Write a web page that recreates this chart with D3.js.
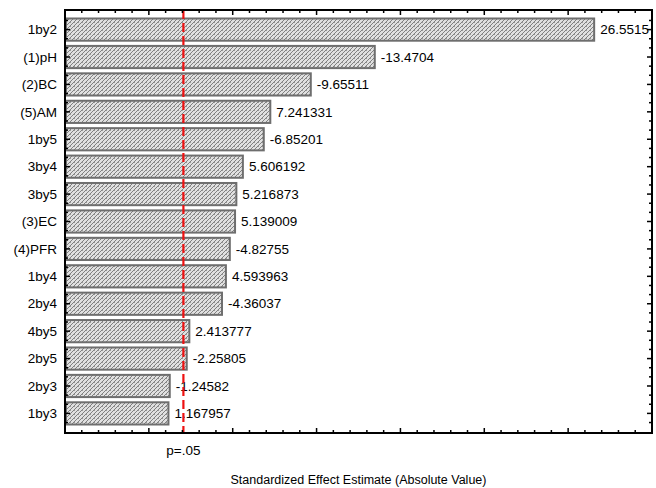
<!DOCTYPE html>
<html>
<head>
<meta charset="utf-8">
<script src="https://cdn.jsdelivr.net/npm/d3@7"></script>
<style>
  html, body { margin: 0; padding: 0; background: #fff; }
  svg { display: block; font-family: "Liberation Sans", Arial, sans-serif; }
</style>
</head>
<body>
<svg id="chart" width="656" height="488"></svg>
<script>
// Pareto chart of standardized effects
const effects = ["1by2", "(1)pH", "(2)BC", "(5)AM", "1by5", "3by4", "3by5", "(3)EC",
                 "(4)PFR", "1by4", "2by4", "4by5", "2by5", "2by3", "1by3"];
const estimates = [26.5515, -13.4704, -9.65511, 7.241331, -6.85201, 5.606192, 5.216873,
                   5.139009, -4.82755, 4.593963, -4.36037, 2.413777, -2.25805, -1.24582, 1.167957];
const estimateLabels = ["26.5515", "-13.4704", "-9.65511", "7.241331", "-6.85201", "5.606192",
                        "5.216873", "5.139009", "-4.82755", "4.593963", "-4.36037", "2.413777",
                        "-2.25805", "-1.24582", "1.167957"];
const criticalT = 2.06;
const xDomain = [-5, 30];
const xMajorTicks = [-5, 0, 5, 10, 15, 20, 25, 30];
const xMinorTicks = d3.range(-5, 31, 1);

const svg = d3.select("#chart");
const plotLeft = 65, plotRight = 652, plotTop = 10, plotBottom = 433;

const x = d3.scaleLinear().domain(xDomain).range([plotLeft, plotRight]);
const y = d3.scaleBand().domain(effects).range([plotTop, plotBottom])
  .paddingInner(0.19).paddingOuter(0.31);

// hatch fill for bars
const defs = svg.append("defs");
const pat = defs.append("pattern")
  .attr("id", "hatch").attr("patternUnits", "userSpaceOnUse")
  .attr("width", 4).attr("height", 4);
pat.append("rect").attr("width", 4).attr("height", 4).attr("fill", "#e0e0e0");
pat.append("path").attr("d", "M-1,1 l2,-2 M0,4 l4,-4 M3,5 l2,-2")
  .attr("stroke", "#808080").attr("stroke-width", 1);
pat.append("rect").attr("x", 2).attr("y", 2).attr("width", 1).attr("height", 1).attr("fill", "#9a9a9a");

const data = effects.map((name, i) => ({ name, value: estimates[i], label: estimateLabels[i] }));

// bars
svg.append("g").selectAll("rect").data(data).join("rect")
  .attr("x", x(xDomain[0]) + 1)
  .attr("y", d => y(d.name))
  .attr("width", d => x(Math.abs(d.value)) - x(xDomain[0]) - 1)
  .attr("height", y.bandwidth())
  .attr("fill", "url(#hatch)")
  .attr("stroke", "#6e6e6e")
  .attr("stroke-width", 2);

// value labels
svg.append("g").selectAll("text").data(data).join("text")
  .attr("x", d => x(Math.abs(d.value)) + 6)
  .attr("y", d => y(d.name) + y.bandwidth() / 2)
  .attr("dy", "0.35em")
  .attr("font-size", 13.5)
  .attr("fill", "#000")
  .text(d => d.label);

// critical value reference line
svg.append("line")
  .attr("x1", x(criticalT)).attr("x2", x(criticalT))
  .attr("y1", plotTop).attr("y2", plotBottom)
  .attr("stroke", "#ee1111").attr("stroke-width", 2.2)
  .attr("stroke-dasharray", "9,4");

// category labels
svg.append("g").selectAll("text").data(effects).join("text")
  .attr("x", plotLeft - 8)
  .attr("y", d => y(d) + y.bandwidth() / 2)
  .attr("dy", "0.35em")
  .attr("text-anchor", "end")
  .attr("font-size", 13.5)
  .text(d => d);

// axes with inward ticks
const axisG = svg.append("g").attr("stroke", "#000").attr("stroke-width", 1.5);
xMinorTicks.forEach(v => {
  const len = xMajorTicks.includes(v) ? 5 : 3;
  axisG.append("line").attr("x1", x(v)).attr("x2", x(v)).attr("y1", plotBottom).attr("y2", plotBottom - len);
  axisG.append("line").attr("x1", x(v)).attr("x2", x(v)).attr("y1", plotTop).attr("y2", plotTop + len);
});
const step = y.step();
effects.forEach(d => {
  const c = y(d) + y.bandwidth() / 2;
  [[c, 5], [c - step / 3, 3], [c + step / 3, 3]].forEach(([yy, len]) => {
    axisG.append("line").attr("x1", plotLeft).attr("x2", plotLeft + len).attr("y1", yy).attr("y2", yy);
    axisG.append("line").attr("x1", plotRight).attr("x2", plotRight - len).attr("y1", yy).attr("y2", yy);
  });
});

// plot frame
svg.append("rect")
  .attr("x", plotLeft).attr("y", plotTop)
  .attr("width", plotRight - plotLeft).attr("height", plotBottom - plotTop)
  .attr("fill", "none").attr("stroke", "#000").attr("stroke-width", 2);

// critical value label
svg.append("text")
  .attr("x", x(criticalT)).attr("y", 455)
  .attr("text-anchor", "middle").attr("font-size", 13.5)
  .text("p=.05");

// axis title
svg.append("text")
  .attr("x", (plotLeft + plotRight) / 2).attr("y", 484)
  .attr("text-anchor", "middle").attr("font-size", 12.5)
  .text("Standardized Effect Estimate (Absolute Value)");
</script>
</body>
</html>
